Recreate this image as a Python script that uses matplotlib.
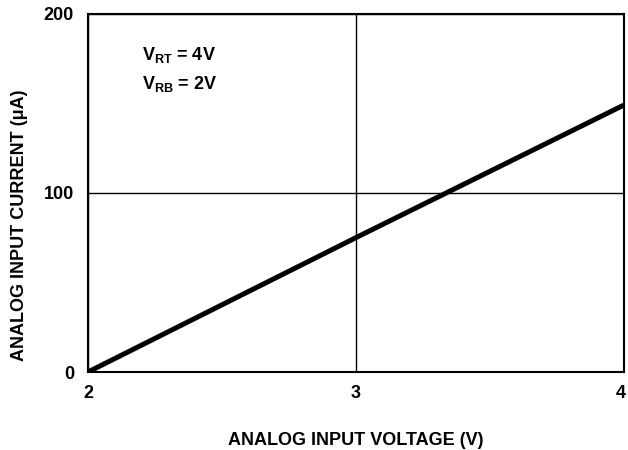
import matplotlib
matplotlib.use("Agg")
import matplotlib.pyplot as plt
import matplotlib.transforms as mtransforms

voltage = [2, 3, 4]
current = [0, 75, 149]
xticks = [2, 3, 4]
yticks = [0, 100, 200]

plt.rcParams['font.family'] = ['Liberation Sans', 'DejaVu Sans']
plt.rcParams['font.weight'] = 'bold'
plt.rcParams['mathtext.fontset'] = 'custom'
plt.rcParams['mathtext.rm'] = 'Liberation Sans:bold'
plt.rcParams['mathtext.bf'] = 'Liberation Sans:bold'
plt.rcParams['mathtext.it'] = 'Liberation Sans:bold'

fs = 13
fig = plt.figure(figsize=(6.28, 4.5), dpi=100)
ax = fig.add_axes([0.1401, 0.1733, 0.853, 0.796])
ax.plot(voltage, current, color='black', linewidth=3.6, solid_capstyle='butt', zorder=3)
ax.set_xlim(2, 4)
ax.set_ylim(0, 200)
ax.set_xticks(xticks)
ax.set_yticks(yticks)
ax.set_xticklabels([str(t) for t in xticks], fontsize=fs, fontweight='bold')
ax.set_yticklabels([str(t) for t in yticks], fontsize=fs, fontweight='bold')
ax.tick_params(length=0)
ax.tick_params(axis='x', pad=9)
ax.tick_params(axis='y', pad=10)
ax.grid(True, color='black', linewidth=1.0)
for s in ax.spines.values():
    s.set_linewidth(1.5)
last = ax.get_xticklabels()[-1]
last.set_transform(last.get_transform() + mtransforms.ScaledTranslation(-0.03, 0, fig.dpi_scale_trans))
ax.set_xlabel('ANALOG INPUT VOLTAGE (V)', fontsize=fs, fontweight='bold', labelpad=22)
ax.set_ylabel('ANALOG INPUT CURRENT (\u03bcA)', fontsize=fs, fontweight='bold')
ax.yaxis.set_label_coords(-0.112, 0.41)
ax.text(0.10, 0.885, r'V$_{\mathrm{RT}}$ = 4V', transform=ax.transAxes, fontsize=fs, fontweight='bold', va='center')
ax.text(0.10, 0.804, r'V$_{\mathrm{RB}}$ = 2V', transform=ax.transAxes, fontsize=fs, fontweight='bold', va='center')
fig.savefig('out.png', dpi=100)
